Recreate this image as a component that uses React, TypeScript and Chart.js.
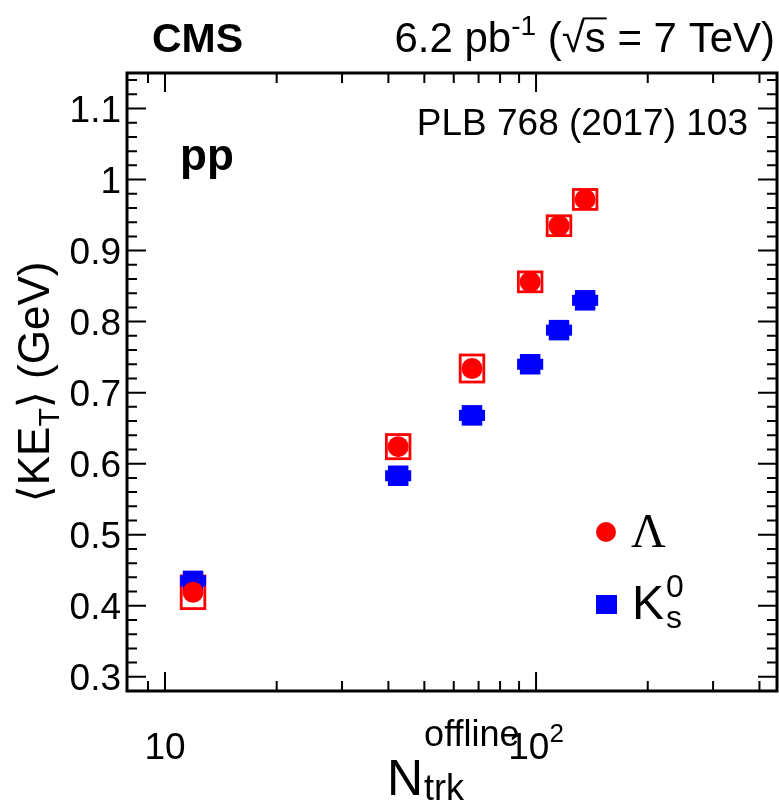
import React, { useEffect, useRef } from "react";
import { Chart, registerables } from "chart.js";

Chart.register(...registerables);

// Mean charged multiplicity of each class
const multiplicity = [11.9, 42.5, 67.2, 96.4, 115.3, 135.6];
// <KE_T> of Lambda and its systematic uncertainty (GeV)
const lambdaKET = [0.419, 0.624, 0.734, 0.856, 0.935, 0.972];
const lambdaSyst = [0.023, 0.017, 0.019, 0.014, 0.014, 0.014];
// <KE_T> of K0s and its systematic uncertainty (GeV)
const k0sKET = [0.435, 0.583, 0.668, 0.740, 0.788, 0.830];
const k0sSyst = [0.006, 0.006, 0.006, 0.006, 0.006, 0.006];

const yTickValues = [0.3, 0.4, 0.5, 0.6, 0.7, 0.8, 0.9, 1.0, 1.1];
const yTickLabels = ["0.3", "0.4", "0.5", "0.6", "0.7", "0.8", "0.9", "1", "1.1"];
const xMajorTicks = [10, 100];
const xMinorTicks = [9, 20, 30, 40, 50, 60, 70, 80, 90, 200, 300, 400];

const X_MIN = 7.9;
const X_MAX = 446;
const Y_MIN = 0.28;
const Y_MAX = 1.15;

const SANS = "'Liberation Sans', Arial, Helvetica, 'DejaVu Sans', sans-serif";
const SERIF = "'Liberation Serif', 'Times New Roman', 'DejaVu Serif', serif";
const RED = "#ff0000";
const BLUE = "#0000ff";
const BOX_XFACTOR = 1.076; // half-width of the systematic boxes, multiplicative on a log axis

type Part = {
  t: string;
  size: number;
  dy?: number;
  bold?: boolean;
  family?: string;
  overline?: boolean;
};

const fontOf = (p: Part) => `${p.bold ? "bold " : ""}${p.size}px ${p.family || SANS}`;

function partsWidth(ctx: CanvasRenderingContext2D, parts: Part[]) {
  let w = 0;
  for (const p of parts) {
    ctx.font = fontOf(p);
    w += ctx.measureText(p.t).width;
  }
  return w;
}

function drawParts(
  ctx: CanvasRenderingContext2D,
  parts: Part[],
  x: number,
  y: number,
  align: "left" | "center" | "right",
  color = "#000"
) {
  const w = partsWidth(ctx, parts);
  let cx = align === "left" ? x : align === "center" ? x - w / 2 : x - w;
  ctx.save();
  ctx.fillStyle = color;
  ctx.strokeStyle = color;
  ctx.textAlign = "left";
  ctx.textBaseline = "alphabetic";
  for (const p of parts) {
    ctx.font = fontOf(p);
    const pw = ctx.measureText(p.t).width;
    ctx.fillText(p.t, cx, y + (p.dy || 0));
    if (p.overline) {
      ctx.lineWidth = 2;
      ctx.beginPath();
      const oy = y + (p.dy || 0) - p.size * 0.8;
      ctx.moveTo(cx - 2, oy);
      ctx.lineTo(cx + pw + 1, oy);
      ctx.stroke();
    }
    cx += pw;
  }
  ctx.restore();
  return w;
}

const plotPlugin = {
  id: "plotDecor",
  beforeDatasetsDraw(chart: any) {
    const { ctx, scales } = chart;
    const xs = scales.x;
    const ys = scales.y;
    ctx.save();
    // Lambda systematic boxes (open)
    ctx.strokeStyle = RED;
    ctx.lineWidth = 2.8;
    multiplicity.forEach((n, i) => {
      const x0 = xs.getPixelForValue(n / BOX_XFACTOR);
      const x1 = xs.getPixelForValue(n * BOX_XFACTOR);
      const y0 = ys.getPixelForValue(lambdaKET[i] + lambdaSyst[i]);
      const y1 = ys.getPixelForValue(lambdaKET[i] - lambdaSyst[i]);
      ctx.strokeRect(x0, y0, x1 - x0, y1 - y0);
    });
    // K0s systematic boxes
    ctx.fillStyle = BLUE;
    ctx.strokeStyle = BLUE;
    ctx.lineWidth = 2.5;
    multiplicity.forEach((n, i) => {
      const x0 = xs.getPixelForValue(n / BOX_XFACTOR);
      const x1 = xs.getPixelForValue(n * BOX_XFACTOR);
      const y0 = ys.getPixelForValue(k0sKET[i] + k0sSyst[i]);
      const y1 = ys.getPixelForValue(k0sKET[i] - k0sSyst[i]);
      ctx.fillRect(x0, y0, x1 - x0, y1 - y0);
      ctx.strokeRect(x0, y0, x1 - x0, y1 - y0);
    });
    ctx.restore();
  },
  afterDraw(chart: any) {
    const { ctx, chartArea, scales } = chart;
    const xs = scales.x;
    const ys = scales.y;
    const { left, right, top, bottom } = chartArea;
    ctx.save();

    // inward ticks on all four sides
    ctx.strokeStyle = "#000";
    ctx.lineWidth = 2;
    const MAJ = 19;
    const MIN = 10;
    ctx.beginPath();
    for (let k = 0; k <= 43; k++) {
      const v = Math.round((0.28 + k * 0.02) * 1000) / 1000;
      if (v > Y_MAX + 1e-9) break;
      const py = ys.getPixelForValue(v);
      const isMajor = Math.abs(v * 10 - Math.round(v * 10)) < 1e-6;
      const len = isMajor ? MAJ : MIN;
      ctx.moveTo(left, py);
      ctx.lineTo(left + len, py);
      ctx.moveTo(right, py);
      ctx.lineTo(right - len, py);
    }
    const xTicks = [
      ...xMajorTicks.map((v) => [v, MAJ]),
      ...xMinorTicks.map((v) => [v, MIN]),
    ];
    for (const [v, len] of xTicks) {
      const px = xs.getPixelForValue(v);
      ctx.moveTo(px, bottom);
      ctx.lineTo(px, bottom - len);
      ctx.moveTo(px, top);
      ctx.lineTo(px, top + len);
    }
    ctx.stroke();

    // frame
    ctx.lineWidth = 3;
    ctx.strokeRect(left, top, right - left, bottom - top);

    // y tick labels
    const TICK = 37;
    yTickValues.forEach((v, i) => {
      const py = ys.getPixelForValue(v);
      drawParts(ctx, [{ t: yTickLabels[i], size: TICK }], left - 6, py + TICK * 0.358, "right");
    });

    // x tick labels
    const xl = 759;
    drawParts(ctx, [{ t: "10", size: TICK }], xs.getPixelForValue(10), xl, "center");
    drawParts(
      ctx,
      [
        { t: "10", size: TICK },
        { t: "2", size: 26, dy: -17 },
      ],
      xs.getPixelForValue(100),
      xl,
      "center"
    );

    // x title
    ctx.fillStyle = "#000";
    ctx.textAlign = "left";
    ctx.textBaseline = "alphabetic";
    ctx.font = `50px ${SANS}`;
    const nx = 387;
    ctx.fillText("N", nx, 795);
    const nw = ctx.measureText("N").width;
    ctx.font = `36px ${SANS}`;
    ctx.fillText("offline", nx + nw + 1, 746);
    ctx.fillText("trk", nx + nw + 1, 800);

    // y title (rotated)
    ctx.save();
    ctx.translate(49, (top + bottom) / 2);
    ctx.rotate(-Math.PI / 2);
    drawParts(
      ctx,
      [
        { t: "\u27E8", size: 44 },
        { t: "KE", size: 44 },
        { t: "T", size: 30, dy: 10 },
        { t: "\u27E9", size: 44 },
        { t: " (GeV)", size: 44 },
      ],
      0,
      0,
      "center"
    );
    ctx.restore();

    // header
    drawParts(ctx, [{ t: "CMS", size: 41, bold: true }], 152, 52, "left");
    drawParts(
      ctx,
      [
        { t: "6.2 pb", size: 42 },
        { t: "-1", size: 28, dy: -17 },
        { t: " (", size: 42 },
        { t: "\u221A", size: 42 },
        { t: "s", size: 42, overline: true },
        { t: " = 7 TeV)", size: 42 },
      ],
      775,
      52,
      "right"
    );

    // annotations inside the frame
    drawParts(ctx, [{ t: "PLB 768 (2017) 103", size: 37 }], 748, 135, "right");
    drawParts(ctx, [{ t: "pp", size: 44, bold: true }], 180, 170, "left");

    // legend
    ctx.fillStyle = RED;
    ctx.beginPath();
    ctx.arc(606, 532, 10, 0, Math.PI * 2);
    ctx.fill();
    ctx.fillStyle = BLUE;
    ctx.fillRect(596, 595, 21, 19);
    drawParts(ctx, [{ t: "\u039B", size: 48, family: SERIF }], 631, 547, "left");
    ctx.fillStyle = "#000";
    ctx.font = `48px ${SANS}`;
    ctx.fillText("K", 632, 619);
    const kw = ctx.measureText("K").width;
    ctx.font = `32px ${SANS}`;
    ctx.fillText("0", 632 + kw + 2, 597);
    ctx.fillText("s", 632 + kw + 2, 628);

    ctx.restore();
  },
};

export default function App() {
  const ref = useRef<HTMLCanvasElement>(null);

  useEffect(() => {
    if (!ref.current) return;
    const chart = new Chart(ref.current, {
      type: "scatter",
      data: {
        datasets: [
          {
            label: "\u039B",
            data: multiplicity.map((n, i) => ({ x: n, y: lambdaKET[i] })),
            pointStyle: "circle",
            pointRadius: 10.5,
            pointHoverRadius: 10.5,
            backgroundColor: RED,
            borderColor: RED,
            borderWidth: 0,
            order: 0,
          },
          {
            label: "K0s",
            data: multiplicity.map((n, i) => ({ x: n, y: k0sKET[i] })),
            pointStyle: "rect",
            pointRadius: 14.5,
            pointHoverRadius: 14.5,
            backgroundColor: BLUE,
            borderColor: BLUE,
            borderWidth: 0,
            order: 1,
          },
        ],
      },
      options: {
        animation: false,
        responsive: false,
        devicePixelRatio: 1,
        events: [],
        layout: { autoPadding: false, padding: { left: 0, right: 2, top: 73, bottom: 0 } },
        plugins: { legend: { display: false }, tooltip: { enabled: false } },
        scales: {
          x: {
            type: "logarithmic",
            min: X_MIN,
            max: X_MAX,
            grid: { display: false },
            border: { display: false },
            ticks: { display: false },
            afterFit: (s: any) => {
              s.height = 113;
              s.paddingLeft = 0;
              s.paddingRight = 0;
            },
          },
          y: {
            type: "linear",
            min: Y_MIN,
            max: Y_MAX,
            grid: { display: false },
            border: { display: false },
            ticks: { display: false },
            afterFit: (s: any) => {
              s.width = 127;
              s.paddingTop = 0;
              s.paddingBottom = 0;
            },
          },
        },
      },
      plugins: [plotPlugin],
    });
    return () => chart.destroy();
  }, []);

  return (
    <div style={{ position: "fixed", left: 0, top: 0, width: 779, height: 804, background: "#fff" }}>
      <canvas ref={ref} width={779} height={804} style={{ display: "block" }} />
    </div>
  );
}
